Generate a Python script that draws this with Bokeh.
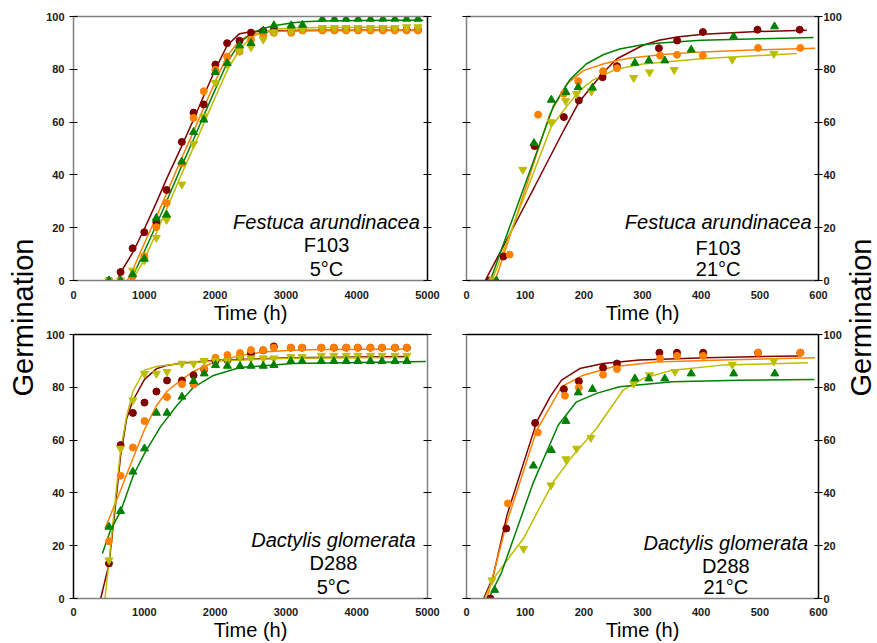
import math
from bokeh.plotting import figure
from bokeh.layouts import row, column
from bokeh.models import Range1d, FixedTicker, LinearAxis, Label
from bokeh.core.properties import value
from bokeh.embed import file_html
from bokeh.resources import INLINE

# ---------------- data ----------------
X_TICKS_5C = [0, 1000, 2000, 3000, 4000, 5000]
X_TICKS_21C = [0, 100, 200, 300, 400, 500, 600]
Y_TICKS = [0, 20, 40, 60, 80, 100]

# Festuca arundinacea F103, 5 C  (observed)
fa5_t = [501, 665, 835, 1000, 1170, 1315, 1530, 1696, 1840, 2004, 2170, 2345, 2507,
         2680, 2830, 3075, 3235, 3515, 3685, 3850, 4020, 4195, 4370, 4540, 4705, 4865]
fa5_red = [0, 3.2, 12.2, 18.3, 22.1, 34.3, 52.5, 63.6, 66.7, 81.8, 89.9, 90.8, 93.9,
           94.5, 94.8, 95, 95, 95, 95, 95, 95, 95, 95, 95, 95, 95]
fa5_orange = [0, 0, 1.6, 9.2, 20.2, 29.4, 44.4, 61.6, 71.7, 79.8, 84.8, 86.7, 91.2,
              92.9, 93.8, 93.8, 94.7, 94.7, 94.7, 94.7, 94.7, 94.7, 94.7, 94.7, 94.7, 94.7]
fa5_yellow = [0, 0, 3.8, 7.6, 16.2, 23, 36.4, 51.8, 62.2, 74.9, 82, 86.9, 88.4,
              91.3, 94, 94.5, 95.2, 95.7, 95.7, 95.7, 95.7, 95.7, 95.7, 95.7, 96, 96]
fa5_green = [0, 0, 2.3, 8.2, 23.7, 24.9, 45, 56.2, 60.9, 78.9, 82.3, 89, 89.9,
             94.6, 96.6, 96.6, 96.8, 99.1, 99.1, 99.1, 99.1, 99.1, 99.1, 99.1, 99.1, 99.1]
# fitted curves
fa5_red_fx = [620, 665, 835, 1000, 1170, 1315, 1530, 1696, 1840, 2004, 2170, 2345, 2507, 2680, 2830, 3075, 3515, 4020, 4540, 4865]
fa5_red_fy = [0, 3, 10.5, 19.5, 29.5, 38.5, 51, 61, 70, 80, 89, 93.5, 94.2, 94.5, 94.6, 94.7, 94.8, 94.8, 94.8, 94.8]
fa5_orange_fx = [760, 835, 1000, 1170, 1315, 1530, 1696, 1840, 2004, 2170, 2345, 2507, 2680, 2830, 3075, 3515, 4020, 4540, 4900]
fa5_orange_fy = [0, 4, 14, 24, 33, 46.5, 56.5, 65.5, 75.5, 85, 91, 93.2, 94, 94.3, 94.5, 94.6, 94.7, 94.7, 94.7]
fa5_yellow_fx = [830, 1000, 1170, 1315, 1530, 1696, 1840, 2004, 2170, 2345, 2507, 2680, 2830, 3075, 3515, 4020, 4580]
fa5_yellow_fy = [0, 8, 18, 27, 40.5, 50.5, 59.5, 69.5, 79.5, 87.5, 92, 94.2, 95.2, 95.6, 95.8, 95.9, 95.9]
fa5_green_fx = [800, 835, 1000, 1170, 1315, 1530, 1696, 1840, 2004, 2170, 2345, 2507, 2680, 2830, 3075, 3235, 3515, 4020, 4540, 4940]
fa5_green_fy = [0, 1.5, 11, 21, 30, 43.5, 53.5, 62.5, 72.5, 82.5, 90, 93.5, 95.5, 96.5, 97.5, 98, 98.3, 98.5, 98.6, 98.6]

# Festuca arundinacea F103, 21 C
fa21_red_t = [39, 63, 116, 166, 191.5, 232, 256.5, 328, 359, 403, 496, 568]
fa21_red = [0, 9.1, 50.9, 61.9, 68.2, 77, 81.2, 88, 90.9, 94.1, 95, 95]
fa21_orange_t = [43.5, 73.5, 122, 166, 190.4, 232.8, 256.5, 330, 358.8, 402.8, 497, 569]
fa21_orange = [0, 9.8, 62.8, 70.7, 75.5, 79.3, 80.4, 85.2, 85.5, 85.2, 88.1, 88.1]
fa21_yellow_t = [46, 96, 144, 169, 187.6, 213, 285, 312, 354, 453, 524]
fa21_yellow = [0, 42, 60, 68, 70.7, 71.7, 76.8, 78.9, 79.8, 83.7, 85.9]
fa21_green_t = [51, 115, 144.6, 169.5, 190.4, 214.7, 287, 310.8, 338, 383, 455.4, 525]
fa21_green = [0, 52, 68.4, 71.3, 73.2, 73, 82.4, 83.3, 83.3, 87.4, 92.4, 96.2]
fa21_red_fx = [32, 39, 63, 116, 166, 191.5, 232, 256.5, 300, 328, 359, 403, 496, 580]
fa21_red_fy = [0, 3, 13, 35.5, 57, 67.5, 78.5, 84, 89, 91, 92.2, 93.3, 94.3, 94.8]
fa21_orange_fx = [49, 73.5, 122, 142, 171, 199, 232.8, 256.5, 280, 330, 359, 403, 497, 594]
fa21_orange_fy = [0, 16.5, 49.5, 63, 74.5, 79.5, 82, 83.3, 84.3, 85.5, 86, 86.6, 87.4, 88]
fa21_yellow_fx = [43.5, 96, 144, 171, 193, 216, 255, 300, 400, 563]
fa21_yellow_fy = [0, 30.3, 58, 66, 72, 76, 80, 82, 84, 86]
fa21_green_fx = [40.7, 60, 115, 148, 176, 204, 233, 261, 300, 330, 400, 500, 591.5]
fa21_green_fy = [0, 12, 45.7, 66, 76, 82, 85.5, 87.7, 89.3, 90, 91, 91.6, 92]

# Dactylis glomerata D288, 5 C
dg5_t = [501, 665, 839, 1003, 1171, 1321, 1532, 1696, 1846, 2006, 2174, 2352, 2507,
         2680, 2830, 3070, 3229, 3500, 3678, 3852, 4016, 4194, 4358, 4541, 4709]
dg5_red = [13.3, 58.1, 70.3, 74.2, 78.4, 82.6, 82.6, 84.6, 86.7, 90, 90.3, 91.5, 92.8,
           94, 95.5, 95, 95, 95, 95, 95, 95, 95, 95, 95, 95]
dg5_orange_t = [501, 665, 839, 1003, 1321, 1532, 1696, 1846, 2006, 2174, 2352, 2507,
                2680, 2830, 3070, 3229, 3500, 3678, 3852, 4016, 4194, 4358, 4541, 4709]
dg5_orange = [21.7, 46.5, 57.2, 67.2, 76.3, 81.2, 81.1, 87.1, 91.2, 92.2, 93, 94.1,
              94.1, 95, 95, 95, 95, 95, 95, 95, 95, 95, 95, 95]
dg5_yellow = [14.5, 56.8, 75.1, 85.2, 85.2, 85.9, 89, 89, 90, 90, 90, 91, 91,
              91, 91, 91.5, 91.5, 92, 92, 92, 92, 92, 92, 92, 92]
dg5_green = [27.1, 33.1, 48, 56.8, 70.3, 70.3, 76.4, 82.3, 85.2, 88.4, 88.1, 88, 88.1,
             88.1, 88.4, 89.9, 89.9, 89.9, 89.9, 89.9, 89.9, 89.9, 89.9, 89.9, 89.9]
dg5_red_fx = [384, 501, 580, 665, 750, 839, 1003, 1171, 1321, 1532, 2006, 3079, 4709]
dg5_red_fy = [0, 13, 32, 54, 68, 75, 83, 87, 88.3, 89.2, 90.2, 91.2, 91.7]
dg5_orange_fx = [445, 665, 839, 1003, 1171, 1321, 1532, 1696, 1846, 2006, 2352, 2680, 3079, 3510, 4709]
dg5_orange_fy = [26.5, 41, 53, 64, 73, 78.5, 83, 86, 88, 89.7, 92, 93.4, 94, 94.3, 94.5]
dg5_yellow_fx = [445, 525, 600, 665, 750, 839, 1003, 1181, 1532, 2006, 3079, 4709]
dg5_yellow_fy = [0, 20, 40, 56, 69, 78.5, 86.5, 88, 89, 90, 91, 91.3]
dg5_green_fx = [408, 525, 665, 843, 1003, 1228, 1462, 1696, 1977, 2352, 3100, 4976]
dg5_green_fy = [17, 26, 33, 46.5, 55, 65, 73.2, 80, 84.5, 87.5, 89, 89.8]

# Dactylis glomerata D288, 21 C
dg21_red_t = [40.7, 67.8, 117, 166, 191.5, 232.8, 256.5, 328.8, 358.8, 403.4, 497, 569]
dg21_red = [0, 26.5, 66.5, 79.3, 82.3, 87.4, 89, 93.1, 93.1, 93.1, 93.1, 93.1]
dg21_orange_t = [70.6, 121.5, 167.8, 191.5, 232.8, 256.5, 330, 358.8, 403.4, 497, 569]
dg21_orange = [36, 62.9, 76.8, 79.9, 84.8, 86.9, 90.9, 91.9, 91.9, 93.1, 93.1]
dg21_yellow_t = [43.5, 97.2, 144, 169.5, 187.6, 212, 285, 312, 355.4, 453, 523.8]
dg21_yellow = [6.9, 18.9, 42.9, 52.8, 56.8, 60.9, 81.4, 84.6, 85.9, 88.6, 89.9]
dg21_green_t = [48, 114, 144.6, 169.5, 190.4, 214.7, 287, 310.8, 338, 383, 455.4, 525.5]
dg21_green = [3.2, 50.3, 56.2, 67.2, 78, 79.3, 83.3, 83.3, 83.3, 85.2, 85.2, 85.2]
dg21_red_fx = [29.4, 45, 69, 119.8, 142.4, 162, 193, 233, 295, 408, 566]
dg21_red_fy = [0, 8, 31.6, 67, 76.4, 82.7, 87.1, 89, 90.3, 91.2, 91.9]
dg21_orange_fx = [35, 69, 119.8, 162, 199, 250, 323, 436, 594]
dg21_orange_fy = [0, 29, 63.8, 80.2, 84.6, 87.8, 89.6, 90.3, 91.2]
dg21_yellow_fx = [31, 46, 97, 148, 182, 221.5, 266.7, 300.6, 351, 436, 582]
dg21_yellow_fy = [0, 7.6, 22.7, 44.2, 54.3, 64.4, 78.9, 83.3, 86.5, 88.4, 89.3]
dg21_green_fx = [37.9, 60, 114, 156.5, 187.6, 221.5, 261, 351, 464, 593]
dg21_green_fy = [0, 10, 44, 65.7, 74.5, 77.7, 80.2, 82.1, 82.7, 83]

Y_LABEL = "Germination"
X_LABEL = "Time (h)"

# ---------------- style ----------------
RED = "#800000"
ORANGE = "#FF8000"
YELLOW = "#BDBD00"
GREEN = "#008000"
GRAY = "#7f7f7f"
BLACK = "#000000"
FONT = "Liberation Sans"


def make_panel(width, height, borders, xmax, xticks, series, texts, spines,
               left_labels, right_labels, tick_standoff, ylab_standoff=5):
    bl, br, bt, bb = borders
    p = figure(width=width, height=height, x_range=Range1d(0, xmax), y_range=Range1d(0, 100),
               output_backend="svg", toolbar_location=None,
               x_axis_location=None, y_axis_location=None,
               min_border_left=bl, min_border_right=br, min_border_top=bt, min_border_bottom=bb,
               outline_line_color=None, background_fill_color="white",
               border_fill_color="white")
    p.grid.visible = False

    s_left, s_top, s_right, s_bottom = spines

    def yaxis(labels, color):
        ax = LinearAxis(ticker=FixedTicker(ticks=Y_TICKS))
        ax.axis_line_color = color
        ax.axis_line_width = 1.5
        ax.major_tick_in = 4
        ax.major_tick_out = 4
        ax.major_tick_line_color = BLACK
        ax.minor_tick_line_color = None
        ax.minor_tick_in = 0
        ax.minor_tick_out = 0
        if labels:
            ax.major_label_text_font = FONT
            ax.major_label_text_font_style = "bold"
            ax.major_label_text_font_size = "11px"
            ax.major_label_text_color = "#1a1a1a"
            ax.major_label_standoff = ylab_standoff
        else:
            ax.major_label_overrides = {t: "" for t in Y_TICKS}
            ax.major_label_text_font_size = "0px"
            ax.major_label_standoff = 0
        return ax

    p.add_layout(yaxis(left_labels, s_left), "left")
    p.add_layout(yaxis(right_labels, s_right), "right")

    xb = LinearAxis(ticker=FixedTicker(ticks=xticks), axis_label=X_LABEL)
    xb.axis_line_color = s_bottom
    xb.axis_line_width = 1.5
    xb.major_tick_in = 0
    xb.major_tick_out = 0
    xb.major_tick_line_color = None
    xb.minor_tick_line_color = None
    xb.minor_tick_in = 0
    xb.minor_tick_out = 0
    xb.major_label_text_font = FONT
    xb.major_label_text_font_style = "bold"
    xb.major_label_text_font_size = "11px"
    xb.major_label_text_color = "#1a1a1a"
    xb.major_label_standoff = tick_standoff
    xb.axis_label_text_font = FONT
    xb.axis_label_text_font_style = "normal"
    xb.axis_label_text_font_size = "20px"
    xb.axis_label_text_color = BLACK
    xb.axis_label_standoff = 0
    p.add_layout(xb, "below")

    xt = LinearAxis(ticker=FixedTicker(ticks=xticks))
    xt.axis_line_color = s_top
    xt.axis_line_width = 1.5
    xt.major_tick_in = 0
    xt.major_tick_out = 0
    xt.major_tick_line_color = None
    xt.minor_tick_line_color = None
    xt.minor_tick_in = 0
    xt.minor_tick_out = 0
    xt.major_label_overrides = {t: "" for t in xticks}
    xt.major_label_text_font_size = "0px"
    xt.major_label_standoff = 0
    p.add_layout(xt, "above")

    # fitted curves first, then the observed points
    for (t, y, fx, fy, color, marker, size) in series:
        p.line(fx, fy, line_color=color, line_width=1.5)
    for (t, y, fx, fy, color, marker, size) in series:
        p.scatter(t, y, marker=marker, size=size, fill_color=color, line_color=color)

    for (tx, ty, txt, style) in texts:
        p.add_layout(Label(x=tx, y=ty, text=txt, text_align="center", text_baseline="alphabetic",
                           text_font=FONT, text_font_size="20px", text_font_style=style,
                           text_color=BLACK))
    return p


TOP_H = 326
BOT_H = 317
L_W = 406
R_W = 398
LAB_L_W = 40
LAB_R_W = 877 - LAB_L_W - L_W - R_W  # 33

p_tl = make_panel(
    L_W, TOP_H, (33, 19, 16, 46), 5000, X_TICKS_5C,
    [(fa5_t, fa5_red, fa5_red_fx, fa5_red_fy, RED, "circle", 7),
     (fa5_t, fa5_orange, fa5_orange_fx, fa5_orange_fy, ORANGE, "circle", 7),
     (fa5_t, fa5_yellow, fa5_yellow_fx, fa5_yellow_fy, YELLOW, "inverted_triangle", 8),
     (fa5_t, fa5_green, fa5_green_fx, fa5_green_fy, GREEN, "triangle", 8)],
    [(3573, 22.3, "Festuca arundinacea", "italic"), (3573, 13.3, "F103", "normal"),
     (3573, 4.5, "5°C", "normal")],
    (GRAY, GRAY, BLACK, GRAY), True, False, 10)

p_tr = make_panel(
    R_W, TOP_H, (20, 24, 16, 46), 600, X_TICKS_21C,
    [(fa21_red_t, fa21_red, fa21_red_fx, fa21_red_fy, RED, "circle", 7),
     (fa21_orange_t, fa21_orange, fa21_orange_fx, fa21_orange_fy, ORANGE, "circle", 7),
     (fa21_yellow_t, fa21_yellow, fa21_yellow_fx, fa21_yellow_fy, YELLOW, "inverted_triangle", 8),
     (fa21_green_t, fa21_green, fa21_green_fx, fa21_green_fy, GREEN, "triangle", 8)],
    [(429, 22.0, "Festuca arundinacea", "italic"), (429, 12.5, "F103", "normal"),
     (429, 4.2, "21°C", "normal")],
    (GRAY, GRAY, BLACK, "#404040"), False, True, 10, ylab_standoff=1)

p_bl = make_panel(
    L_W, BOT_H, (33, 19, 8, 45), 5000, X_TICKS_5C,
    [(dg5_t, dg5_red, dg5_red_fx, dg5_red_fy, RED, "circle", 7),
     (dg5_orange_t, dg5_orange, dg5_orange_fx, dg5_orange_fy, ORANGE, "circle", 7),
     (dg5_t, dg5_yellow, dg5_yellow_fx, dg5_yellow_fy, YELLOW, "inverted_triangle", 8),
     (dg5_t, dg5_green, dg5_green_fx, dg5_green_fy, GREEN, "triangle", 8)],
    [(3672, 22.3, "Dactylis glomerata", "italic"), (3672, 13.3, "D288", "normal"),
     (3672, 4.5, "5°C", "normal")],
    (BLACK, BLACK, GRAY, GRAY), True, False, 9)

p_br = make_panel(
    R_W, BOT_H, (20, 24, 8, 45), 600, X_TICKS_21C,
    [(dg21_red_t, dg21_red, dg21_red_fx, dg21_red_fy, RED, "circle", 7),
     (dg21_orange_t, dg21_orange, dg21_orange_fx, dg21_orange_fy, ORANGE, "circle", 7),
     (dg21_yellow_t, dg21_yellow, dg21_yellow_fx, dg21_yellow_fy, YELLOW, "inverted_triangle", 8),
     (dg21_green_t, dg21_green, dg21_green_fx, dg21_green_fy, GREEN, "triangle", 8)],
    [(442, 21.2, "Dactylis glomerata", "italic"), (442, 12.5, "D288", "normal"),
     (442, 4.2, "21°C", "normal")],
    (GRAY, BLACK, BLACK, GRAY), False, True, 9, ylab_standoff=1)

TOTAL_H = TOP_H + BOT_H


def label_fig(w, cx, size):
    f = figure(width=w, height=TOTAL_H, x_range=Range1d(0, w), y_range=Range1d(0, TOTAL_H),
               output_backend="svg", toolbar_location=None,
               x_axis_location=None, y_axis_location=None, min_border=0,
               outline_line_color=None)
    f.grid.visible = False
    f.text(x=[cx], y=[TOTAL_H - 317], text=[Y_LABEL], angle=math.pi / 2,
           text_align="center", text_baseline="middle",
           text_font=value(FONT), text_font_size=value(size), text_color=BLACK)
    return f


left_lab = label_fig(LAB_L_W, 22, "29px")
right_lab = label_fig(LAB_R_W, 16.5, "29px")

layout = row(left_lab, column(row(p_tl, p_tr), row(p_bl, p_br)), right_lab)

with open("out.html", "w") as fh:
    fh.write(file_html(layout, INLINE))
